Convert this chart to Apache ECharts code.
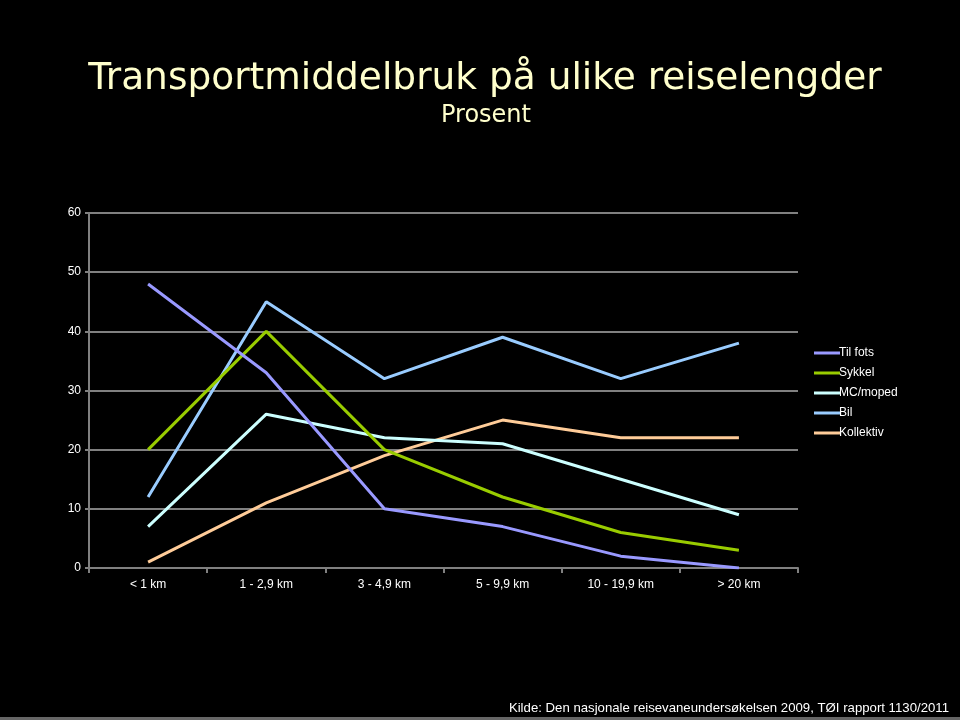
<!DOCTYPE html>
<html><head><meta charset="utf-8">
<script src="https://cdn.jsdelivr.net/npm/echarts@6/dist/echarts.min.js"></script>
<style>html,body{margin:0;padding:0;background:#000;}#c{width:960px;height:720px;}</style>
</head><body><div id="c"></div>
<script>
const categories = ['< 1 km', '1 - 2,9 km', '3 - 4,9 km', '5 - 9,9 km', '10 - 19,9 km', '> 20 km'];
const tilFots = [48, 33, 10, 7, 2, 0];
const sykkel = [20, 40, 20, 12, 6, 3];
const mcMoped = [7, 26, 22, 21, 15, 9];
const bil = [12, 45, 32, 39, 32, 38];
const kollektiv = [1, 11, 19, 25, 22, 22];
const seriesNames = ['Til fots', 'Sykkel', 'MC/moped', 'Bil', 'Kollektiv'];
const seriesData = [tilFots, sykkel, mcMoped, bil, kollektiv];
const colors = ['#9999ff', '#99cc00', '#ccffff', '#99ccff', '#ffcc99'];

const chart = echarts.init(document.getElementById('c'));
const lab = {color: '#ffffff', fontFamily: '"Liberation Sans Narrow", "Liberation Sans", Arial, sans-serif', fontSize: 12};
chart.setOption({
  backgroundColor: '#000000',
  animation: false,
  title: [
    {text: 'Transportmiddelbruk på ulike reiselengder', left: 480, textAlign: 'center', top: 55,
     textStyle: {color: '#ffffcc', fontFamily: '"DejaVu Sans", sans-serif', fontSize: 37.5, fontWeight: 'normal'}},
    {text: 'Prosent', left: 481, textAlign: 'center', top: 99,
     textStyle: {color: '#ffffcc', fontFamily: '"DejaVu Sans", sans-serif', fontSize: 24, fontWeight: 'normal'}},
    {text: 'Kilde: Den nasjonale reisevaneundersøkelsen 2009, TØI rapport 1130/2011', right: 6, top: 697,
     textStyle: {color: '#ffffff', fontFamily: '"Liberation Sans", Arial, sans-serif', fontSize: 13.2, fontWeight: 'normal'}}
  ],
  graphic: [{type: 'rect', shape: {x: 0, y: 717, width: 960, height: 3}, style: {fill: '#666666'}}],
  legend: {
    orient: 'vertical', left: 809, top: 341, itemGap: 6, itemWidth: 26, itemHeight: 14,
    icon: 'path://M0,6 L26,6 L26,9 L0,9 Z',
    textStyle: Object.assign({}, lab, {padding: [0, 0, 0, -6], height: 14, lineHeight: 14}),
    data: seriesNames
  },
  grid: {left: 89, right: 162, top: 213, bottom: 152, containLabel: false},
  xAxis: {
    type: 'category', data: categories, boundaryGap: true,
    axisLine: {lineStyle: {color: '#808080', width: 2}},
    axisTick: {show: true, length: 5, lineStyle: {color: '#808080', width: 2}},
    axisLabel: Object.assign({}, lab, {margin: 11})
  },
  yAxis: {
    type: 'value', min: 0, max: 60, interval: 10,
    axisLine: {show: true, lineStyle: {color: '#808080', width: 2}},
    axisTick: {show: true, length: 4, lineStyle: {color: '#808080', width: 2}},
    splitLine: {lineStyle: {color: '#808080', width: 2}},
    axisLabel: Object.assign({}, lab, {margin: 8})
  },
  series: seriesNames.map((n, i) => ({
    name: n, type: 'line', data: seriesData[i], symbol: 'none',
    lineStyle: {color: colors[i], width: 3}, itemStyle: {color: colors[i]}, z: 10 - i
  }))
});
</script></body></html>
